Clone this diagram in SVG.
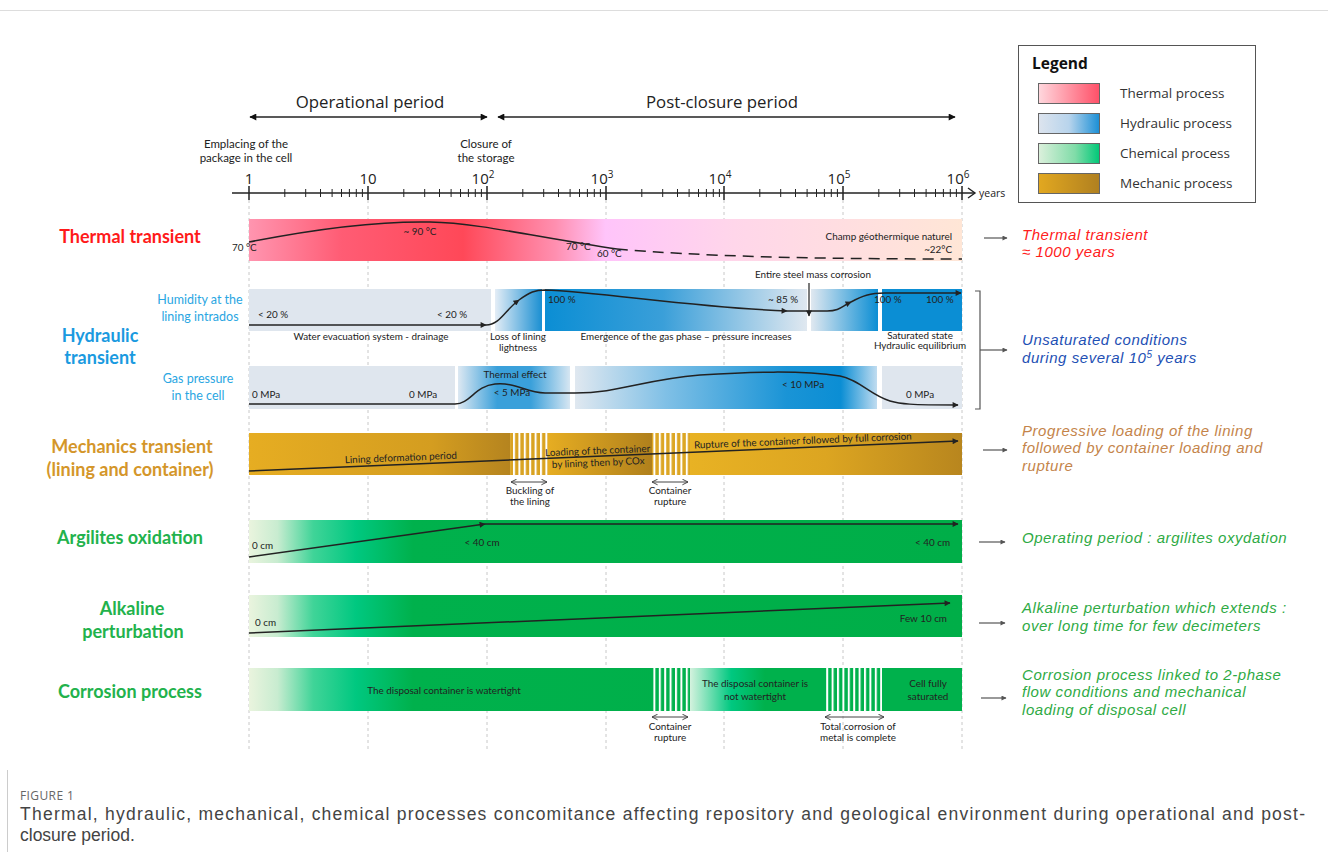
<svg xmlns="http://www.w3.org/2000/svg" width="1328" height="852" viewBox="0 0 1328 852">
<style>
.ax{font-family:"Open Sans","Liberation Sans",sans-serif;fill:#222}
.tp{font-family:Lato,"Liberation Sans",sans-serif;font-size:11.5px;fill:#222}
.sm{font-family:Lato,"Liberation Sans",sans-serif;font-size:9.9px;fill:#222}
.lbl{font-family:Lato,"Liberation Sans",sans-serif;font-weight:bold;font-size:18px}
.rt{font-family:"Liberation Sans",Arial,sans-serif;font-style:italic;font-size:15px;letter-spacing:0.55px}
.leg{font-family:"Open Sans","Liberation Sans",sans-serif;font-size:13.5px;fill:#333}
.hl{font-family:Lato,"Liberation Sans",sans-serif;font-size:12.5px;fill:#2aa6e2}
.grid{stroke:#c8c8c8;stroke-width:1;stroke-dasharray:3 3}
.crv{fill:none;stroke:#222;stroke-width:1.5}
.con{fill:none;stroke:#555;stroke-width:1.2}
</style>
<defs>
<marker id="ah" viewBox="0 0 10 10" refX="9" refY="5" markerWidth="9" markerHeight="7" markerUnits="userSpaceOnUse" orient="auto-start-reverse"><path d="M0,0 L10,5 L0,10 z" fill="#111"/></marker>
<marker id="ahs" viewBox="0 0 10 10" refX="9" refY="5" markerWidth="7" markerHeight="6" markerUnits="userSpaceOnUse" orient="auto"><path d="M0,0 L10,5 L0,10 z" fill="#222"/></marker>
<marker id="ahg" viewBox="0 0 10 10" refX="9" refY="5" markerWidth="6" markerHeight="5" markerUnits="userSpaceOnUse" orient="auto"><path d="M0,0 L10,5 L0,10 z" fill="#555"/></marker>
<marker id="oa" viewBox="0 0 10 10" refX="9" refY="5" markerWidth="7" markerHeight="7" markerUnits="userSpaceOnUse" orient="auto-start-reverse"><path d="M1,1 L9,5 L1,9" fill="none" stroke="#444" stroke-width="1.4"/></marker>
<linearGradient id="gTherm" gradientUnits="userSpaceOnUse" x1="249" y1="0" x2="962" y2="0">
<stop offset="0" stop-color="#ff95b0"/><stop offset="0.13" stop-color="#ff5c74"/><stop offset="0.3" stop-color="#ff4858"/><stop offset="0.43" stop-color="#ff8fb0"/><stop offset="0.5" stop-color="#ffc4fa"/><stop offset="0.68" stop-color="#ffd6ea"/><stop offset="1" stop-color="#ffe6d6"/></linearGradient>
<linearGradient id="gH2" gradientUnits="userSpaceOnUse" x1="495" y1="0" x2="542" y2="0"><stop offset="0" stop-color="#e4edf6"/><stop offset="1" stop-color="#1a8fd2"/></linearGradient>
<linearGradient id="gH3" gradientUnits="userSpaceOnUse" x1="545" y1="0" x2="807" y2="0"><stop offset="0" stop-color="#0b8ed4"/><stop offset="0.45" stop-color="#3a9fd9"/><stop offset="1" stop-color="#e0e8f0"/></linearGradient>
<linearGradient id="gH4" gradientUnits="userSpaceOnUse" x1="811" y1="0" x2="878" y2="0"><stop offset="0" stop-color="#e0e8f0"/><stop offset="1" stop-color="#0b8ed4"/></linearGradient>
<linearGradient id="gG2" gradientUnits="userSpaceOnUse" x1="458" y1="0" x2="570" y2="0"><stop offset="0" stop-color="#dde8f2"/><stop offset="0.35" stop-color="#3aa0da"/><stop offset="0.65" stop-color="#3aa0da"/><stop offset="1" stop-color="#d6e6f2"/></linearGradient>
<linearGradient id="gG3" gradientUnits="userSpaceOnUse" x1="575" y1="0" x2="877" y2="0"><stop offset="0" stop-color="#e0e8f0"/><stop offset="0.3" stop-color="#80c0e6"/><stop offset="0.7" stop-color="#1a94d6"/><stop offset="0.88" stop-color="#0b8ed4"/><stop offset="1" stop-color="#c0dcf0"/></linearGradient>
<linearGradient id="gM1" gradientUnits="userSpaceOnUse" x1="249" y1="0" x2="510" y2="0"><stop offset="0" stop-color="#e6ad22"/><stop offset="0.7" stop-color="#d49d20"/><stop offset="1" stop-color="#b5841f"/></linearGradient>
<linearGradient id="gM2" gradientUnits="userSpaceOnUse" x1="548" y1="0" x2="652" y2="0"><stop offset="0" stop-color="#e6ad22"/><stop offset="1" stop-color="#b0801c"/></linearGradient>
<linearGradient id="gM3" gradientUnits="userSpaceOnUse" x1="690" y1="0" x2="962" y2="0"><stop offset="0" stop-color="#e8b224"/><stop offset="0.5" stop-color="#dca521"/><stop offset="1" stop-color="#b8861e"/></linearGradient>
<linearGradient id="gGreen" gradientUnits="userSpaceOnUse" x1="249" y1="0" x2="962" y2="0"><stop offset="0" stop-color="#eaf4de"/><stop offset="0.04" stop-color="#c8ecd0"/><stop offset="0.09" stop-color="#40d498"/><stop offset="0.15" stop-color="#00c880"/><stop offset="0.23" stop-color="#00b14c"/><stop offset="1" stop-color="#00ae48"/></linearGradient>
<linearGradient id="gC3" gradientUnits="userSpaceOnUse" x1="690" y1="0" x2="765" y2="0"><stop offset="0" stop-color="#d4f2de"/><stop offset="0.55" stop-color="#00c880"/><stop offset="1" stop-color="#00b14c"/></linearGradient>
<linearGradient id="lgT" x1="0" y1="0" x2="1" y2="0"><stop offset="0" stop-color="#ffd8de"/><stop offset="1" stop-color="#ff5068"/></linearGradient>
<linearGradient id="lgH" x1="0" y1="0" x2="1" y2="0"><stop offset="0" stop-color="#dde4ee"/><stop offset="0.5" stop-color="#b8d4ec"/><stop offset="1" stop-color="#1a8fd6"/></linearGradient>
<linearGradient id="lgC" x1="0" y1="0" x2="1" y2="0"><stop offset="0" stop-color="#dcf0dc"/><stop offset="0.6" stop-color="#80dca8"/><stop offset="1" stop-color="#00c878"/></linearGradient>
<linearGradient id="lgM" x1="0" y1="0" x2="1" y2="0"><stop offset="0" stop-color="#e2a820"/><stop offset="1" stop-color="#b08020"/></linearGradient>
<pattern id="stripes" patternUnits="userSpaceOnUse" width="5.4" height="10"><rect x="0" y="0" width="2" height="10" fill="#fff"/></pattern>
</defs>
<rect width="1328" height="852" fill="#fff"/>
<line x1="0" y1="10.5" x2="1328" y2="10.5" stroke="#ddd"/>
<line x1="7.5" y1="770" x2="7.5" y2="852" stroke="#ccc"/>

<!-- gridlines -->
<g id="grid">
<line class="grid" x1="249" y1="200" x2="249" y2="750"/>
<line class="grid" x1="368" y1="200" x2="368" y2="750"/>
<line class="grid" x1="487" y1="200" x2="487" y2="750"/>
<line class="grid" x1="606" y1="200" x2="606" y2="750"/>
<line class="grid" x1="724" y1="200" x2="724" y2="750"/>
<line class="grid" x1="843" y1="200" x2="843" y2="750"/>
<line class="grid" x1="962" y1="200" x2="962" y2="750"/>
</g>

<!-- periods -->
<g id="periods">
<line x1="250" y1="117" x2="487" y2="117" stroke="#222" stroke-width="1.3" marker-start="url(#ah)" marker-end="url(#ah)"/>
<text class="ax" x="370" y="108" font-size="16.8" text-anchor="middle">Operational period</text>
<line x1="498" y1="117" x2="955" y2="117" stroke="#222" stroke-width="1.3" marker-start="url(#ah)" marker-end="url(#ah)"/>
<text class="ax" x="722" y="108" font-size="16.8" text-anchor="middle">Post-closure period</text>
<text class="tp" x="246" y="148" text-anchor="middle">Emplacing of the</text>
<text class="tp" x="246" y="162" text-anchor="middle">package in the cell</text>
<text class="tp" x="486" y="148" text-anchor="middle">Closure of</text>
<text class="tp" x="486" y="162" text-anchor="middle">the storage</text>
</g>

<!-- axis -->
<g id="axis" stroke="#222">
<line x1="232" y1="193" x2="975" y2="193" stroke-width="1.6"/>
<path d="M968,188 L975,193 L968,198" fill="none" stroke-width="1.4"/>
<path stroke-width="1.5" d="M249,186V200M368,186V200M487,186V200M606,186V200M724,186V200M843,186V200M962,186V200"/>
<path stroke-width="1" d="M284.8,189V197M305.7,189V197M320.5,189V197M332.1,189V197M341.5,189V197M349.4,189V197M356.3,189V197M362.4,189V197M403.8,189V197M424.7,189V197M439.5,189V197M451.1,189V197M460.5,189V197M468.4,189V197M475.3,189V197M481.4,189V197M522.8,189V197M543.7,189V197M558.5,189V197M570.1,189V197M579.5,189V197M587.4,189V197M594.3,189V197M600.4,189V197M641.8,189V197M662.7,189V197M677.5,189V197M689.1,189V197M698.5,189V197M706.4,189V197M713.3,189V197M719.4,189V197M759.8,189V197M780.7,189V197M795.5,189V197M807.1,189V197M816.5,189V197M824.4,189V197M831.3,189V197M837.4,189V197M878.8,189V197M899.7,189V197M914.5,189V197M926.1,189V197M935.5,189V197M943.4,189V197M950.3,189V197M956.4,189V197"/>
</g>
<g id="axis-labels" class="ax" font-size="15">
<text x="249" y="184" text-anchor="middle">1</text>
<text x="368" y="184" text-anchor="middle">10</text>
<text x="483" y="184" text-anchor="middle">10<tspan font-size="10" dy="-6">2</tspan></text>
<text x="602" y="184" text-anchor="middle">10<tspan font-size="10" dy="-6">3</tspan></text>
<text x="720" y="184" text-anchor="middle">10<tspan font-size="10" dy="-6">4</tspan></text>
<text x="839" y="184" text-anchor="middle">10<tspan font-size="10" dy="-6">5</tspan></text>
<text x="958" y="184" text-anchor="middle">10<tspan font-size="10" dy="-6">6</tspan></text>
<text x="979" y="197" font-size="10.5">years</text>
</g>

<!-- legend -->
<g id="legend">
<rect x="1018.5" y="45.5" width="237" height="157" fill="#fff" stroke="#555" stroke-width="1"/>
<text x="1032" y="69" font-family="'Open Sans','Liberation Sans',sans-serif" font-weight="bold" font-size="15.5" fill="#111">Legend</text>
<rect x="1038.5" y="83.5" width="61" height="20" fill="url(#lgT)" stroke="#666"/>
<rect x="1038.5" y="113.5" width="61" height="20" fill="url(#lgH)" stroke="#666"/>
<rect x="1038.5" y="143.5" width="61" height="20" fill="url(#lgC)" stroke="#666"/>
<rect x="1038.5" y="173.5" width="61" height="20" fill="url(#lgM)" stroke="#666"/>
<text class="leg" x="1120" y="98">Thermal process</text>
<text class="leg" x="1120" y="128">Hydraulic process</text>
<text class="leg" x="1120" y="158">Chemical process</text>
<text class="leg" x="1120" y="188">Mechanic process</text>
</g>

<!-- thermal -->
<g id="thermal">
<text class="lbl" x="130" y="243" text-anchor="middle" fill="#ff1a1a">Thermal transient</text>
<rect x="249" y="219" width="713" height="42" fill="url(#gTherm)"/>
<path class="crv" stroke-width="2.4" d="M249,242 C320,228 380,221 430,222 C480,223 540,238 617,249"/>
<path class="crv" stroke-width="2.4" stroke-dasharray="11 7" d="M617,249 C700,256 800,259 962,259"/>
<text class="sm" x="232" y="251" font-size="8.5">70 °C</text>
<text class="sm" x="420" y="235" font-size="8.5" text-anchor="middle">~ 90 °C</text>
<text class="sm" x="566" y="250" font-size="8.5">70 °C</text>
<text class="sm" x="597" y="257" font-size="8.5">60 °C</text>
<text class="sm" x="952" y="240" text-anchor="end">Champ géothermique naturel</text>
<text class="sm" x="952" y="253" text-anchor="end">~22°C</text>
</g>

<!-- hydraulic -->
<g id="hydraulic">
<text class="lbl" x="100" y="342" text-anchor="middle" fill="#1a9ae0">Hydraulic</text>
<text class="lbl" x="100" y="364" text-anchor="middle" fill="#1a9ae0">transient</text>
<text class="hl" x="200" y="304" text-anchor="middle">Humidity at the</text>
<text class="hl" x="200" y="321" text-anchor="middle">lining intrados</text>
<text class="hl" x="198" y="383" text-anchor="middle">Gas pressure</text>
<text class="hl" x="198" y="400" text-anchor="middle">in the cell</text>
<!-- humidity band -->
<rect x="249" y="289" width="242" height="42" fill="#dfe6ee"/>
<rect x="495" y="289" width="47" height="42" fill="url(#gH2)"/>
<rect x="545" y="289" width="262" height="42" fill="url(#gH3)"/>
<rect x="811" y="289" width="67" height="42" fill="url(#gH4)"/>
<rect x="882" y="289" width="80" height="42" fill="#0b8ed4"/>
<path class="crv" d="M249,325 L486,325" marker-end="url(#ahs)"/>
<path class="crv" d="M486,325 C500,325 505,310 519,300" marker-end="url(#ahs)"/>
<path class="crv" d="M519,300 C530,292 535,290 545,290 C600,292 700,308 787,311" marker-end="url(#ahs)"/>
<path class="crv" d="M787,311 L827,311 C840,311 842,306 851,302" marker-end="url(#ahs)"/>
<path class="crv" d="M851,302 C862,296 870,293 885,293 L961,293" marker-end="url(#ahs)"/>
<text class="sm" x="258" y="318">&lt; 20 %</text>
<text class="sm" x="437" y="318">&lt; 20 %</text>
<text class="sm" x="548" y="303">100 %</text>
<text class="sm" x="783" y="303" text-anchor="middle">~ 85 %</text>
<text class="sm" x="874" y="303">100 %</text>
<text class="sm" x="926" y="303">100 %</text>
<text class="sm" x="371" y="340" text-anchor="middle">Water evacuation system - drainage</text>
<text class="sm" x="518" y="340" text-anchor="middle">Loss of lining</text>
<text class="sm" x="518" y="351" text-anchor="middle">lightness</text>
<text class="sm" x="686" y="340" text-anchor="middle">Emergence of the gas phase – pressure increases</text>
<text class="sm" x="920" y="339" text-anchor="middle">Saturated state</text>
<text class="sm" x="920" y="349" text-anchor="middle">Hydraulic equilibrium</text>
<text class="sm" x="813" y="278" text-anchor="middle">Entire steel mass corrosion</text>
<line x1="809" y1="283" x2="809" y2="316" stroke="#222" stroke-width="1.2" marker-end="url(#ahs)"/>
<!-- gas band -->
<rect x="249" y="366" width="206" height="43" fill="#dfe6ee"/>
<rect x="458" y="366" width="112" height="43" fill="url(#gG2)"/>
<rect x="575" y="366" width="302" height="43" fill="url(#gG3)"/>
<rect x="882" y="366" width="80" height="43" fill="#dfe6ee"/>
<path class="crv" d="M249,404 L455,404 C470,404 475,386 495,384 C515,382 525,392 545,393 L575,393 C620,393 640,380 700,375 C750,372 800,370 840,376 C860,380 870,395 890,401 C900,404 910,405 958,405" marker-end="url(#ahs)"/>
<text class="sm" x="252" y="398">0 MPa</text>
<text class="sm" x="409" y="398">0 MPa</text>
<text class="sm" x="515" y="378" text-anchor="middle">Thermal effect</text>
<text class="sm" x="512" y="396" text-anchor="middle">&lt; 5 MPa</text>
<text class="sm" x="803" y="388" text-anchor="middle">&lt; 10 MPa</text>
<text class="sm" x="920" y="398" text-anchor="middle">0 MPa</text>
</g>

<!-- mechanics -->
<g id="mechanics">
<text class="lbl" x="132" y="453" text-anchor="middle" fill="#d4962a">Mechanics transient</text>
<text class="lbl" x="130" y="476" text-anchor="middle" fill="#d4962a">(lining and container)</text>
<rect x="249" y="433" width="261" height="42" fill="url(#gM1)"/>
<rect x="510" y="433" width="38" height="42" fill="#d9a322"/>
<rect x="510" y="433" width="38" height="42" fill="url(#stripes)"/>
<rect x="548" y="433" width="104" height="42" fill="url(#gM2)"/>
<rect x="652" y="433" width="38" height="42" fill="#dca623"/>
<rect x="652" y="433" width="38" height="42" fill="url(#stripes)"/>
<rect x="690" y="433" width="272" height="42" fill="url(#gM3)"/>
<path class="crv" d="M249,471 L958,441" marker-end="url(#ahs)"/>
<g transform="rotate(-2.4 401 461)"><text class="sm" x="401" y="461" text-anchor="middle">Lining deformation period</text></g>
<g transform="rotate(-2.4 598 458)"><text class="sm" x="598" y="454" text-anchor="middle">Loading of the container</text><text class="sm" x="598" y="466" text-anchor="middle">by lining then by COx</text></g>
<g transform="rotate(-2.4 803 444)"><text class="sm" x="803" y="444" text-anchor="middle">Rupture of the container followed by full corrosion</text></g>
<line x1="511" y1="482" x2="547" y2="482" stroke="#444" stroke-width="1" marker-start="url(#oa)" marker-end="url(#oa)"/>
<text class="sm" x="530" y="494" text-anchor="middle">Buckling of</text>
<text class="sm" x="530" y="505" text-anchor="middle">the lining</text>
<line x1="652" y1="482" x2="688" y2="482" stroke="#444" stroke-width="1" marker-start="url(#oa)" marker-end="url(#oa)"/>
<text class="sm" x="670" y="494" text-anchor="middle">Container</text>
<text class="sm" x="670" y="505" text-anchor="middle">rupture</text>
</g>

<!-- argilites -->
<g id="argilites">
<text class="lbl" x="130" y="544" text-anchor="middle" fill="#22b24c">Argilites oxidation</text>
<rect x="249" y="520" width="713" height="43" fill="url(#gGreen)"/>
<path class="crv" d="M249,557 L485,524" marker-end="url(#ahs)"/>
<path class="crv" d="M485,524 L958,524" marker-end="url(#ahs)"/>
<text class="sm" x="252" y="549" font-size="8.5">0 cm</text>
<text class="sm" x="482" y="546" font-size="8.5" text-anchor="middle">&lt; 40 cm</text>
<text class="sm" x="950" y="546" font-size="8.5" text-anchor="end">&lt; 40 cm</text>
</g>

<!-- alkaline -->
<g id="alkaline">
<text class="lbl" x="132" y="615" text-anchor="middle" fill="#22b24c">Alkaline</text>
<text class="lbl" x="133" y="638" text-anchor="middle" fill="#22b24c">perturbation</text>
<rect x="249" y="595" width="713" height="42" fill="url(#gGreen)"/>
<path class="crv" d="M249,633 L950,603" marker-end="url(#ahs)"/>
<text class="sm" x="255" y="626" font-size="8.5">0 cm</text>
<text class="sm" x="947" y="622" font-size="8.5" text-anchor="end">Few 10 cm</text>
</g>

<!-- corrosion -->
<g id="corrosion">
<text class="lbl" x="130" y="698" text-anchor="middle" fill="#22b24c">Corrosion process</text>
<rect x="249" y="668" width="403" height="43" fill="url(#gGreen)"/>
<rect x="652" y="668" width="38" height="43" fill="#00b14c"/>
<rect x="652" y="668" width="38" height="43" fill="url(#stripes)"/>
<rect x="690" y="668" width="134" height="43" fill="url(#gC3)"/>
<rect x="824" y="668" width="58" height="43" fill="#00b14c"/>
<rect x="824" y="668" width="58" height="43" fill="url(#stripes)"/>
<rect x="882" y="668" width="80" height="43" fill="#00b14c"/>
<text class="sm" x="444" y="694" text-anchor="middle">The disposal container is watertight</text>
<text class="sm" x="755" y="687" text-anchor="middle">The disposal container is</text>
<text class="sm" x="755" y="700" text-anchor="middle">not watertight</text>
<text class="sm" x="928" y="687" text-anchor="middle">Cell fully</text>
<text class="sm" x="928" y="700" text-anchor="middle">saturated</text>
<line x1="652" y1="717" x2="688" y2="717" stroke="#444" stroke-width="1" marker-start="url(#oa)" marker-end="url(#oa)"/>
<text class="sm" x="670" y="730" text-anchor="middle">Container</text>
<text class="sm" x="670" y="741" text-anchor="middle">rupture</text>
<line x1="825" y1="717" x2="884" y2="717" stroke="#444" stroke-width="1" marker-start="url(#oa)" marker-end="url(#oa)"/>
<text class="sm" x="858" y="730" text-anchor="middle">Total corrosion of</text>
<text class="sm" x="858" y="741" text-anchor="middle">metal is complete</text>
</g>

<!-- connectors -->
<g id="connectors">
<line class="con" x1="984" y1="238" x2="1007" y2="238" marker-end="url(#ahg)"/>
<path class="con" d="M975,291 L980,291 L980,409 L975,409"/>
<line class="con" x1="980" y1="350" x2="1007" y2="350" marker-end="url(#ahg)"/>
<line class="con" x1="983" y1="450" x2="1007" y2="450" marker-end="url(#ahg)"/>
<line class="con" x1="979" y1="542" x2="1005" y2="542" marker-end="url(#ahg)"/>
<line class="con" x1="979" y1="623" x2="1005" y2="623" marker-end="url(#ahg)"/>
<line class="con" x1="981" y1="698" x2="1006" y2="698" marker-end="url(#ahg)"/>
</g>

<!-- conclusions -->
<g id="conclusions" class="rt">
<text x="1022" y="240" fill="#ff2020">Thermal transient</text>
<text x="1022" y="257" fill="#ff2020">≈ 1000 years</text>
<text x="1022" y="345" fill="#1e50b4">Unsaturated conditions</text>
<text x="1022" y="363" fill="#1e50b4">during several 10<tspan font-size="10" dy="-5">5</tspan><tspan dy="5"> years</tspan></text>
<text x="1022" y="436" fill="#c4844a">Progressive loading of the lining</text>
<text x="1022" y="453" fill="#c4844a">followed by container loading and</text>
<text x="1022" y="471" fill="#c4844a">rupture</text>
<text x="1022" y="543" fill="#2eaa44">Operating period : argilites oxydation</text>
<text x="1022" y="613" fill="#2eaa44">Alkaline perturbation which extends :</text>
<text x="1022" y="631" fill="#2eaa44">over long time for few decimeters</text>
<text x="1022" y="680" fill="#2eaa44">Corrosion process linked to 2-phase</text>
<text x="1022" y="697" fill="#2eaa44">flow conditions and mechanical</text>
<text x="1022" y="715" fill="#2eaa44">loading of disposal cell</text>
</g>

<!-- caption -->
<g id="caption">
<text x="20" y="800" font-family="'Open Sans','Liberation Sans',sans-serif" font-size="12" fill="#666" letter-spacing="0.4">FIGURE 1</text>
<text x="20" y="820" font-family="'Liberation Sans',Arial,sans-serif" font-size="17.5" fill="#444" textLength="1285" lengthAdjust="spacing">Thermal, hydraulic, mechanical, chemical processes concomitance affecting repository and geological environment during operational and post-</text>
<text x="20" y="841" font-family="'Liberation Sans',Arial,sans-serif" font-size="17.5" fill="#444">closure period.</text>
</g>
</svg>
